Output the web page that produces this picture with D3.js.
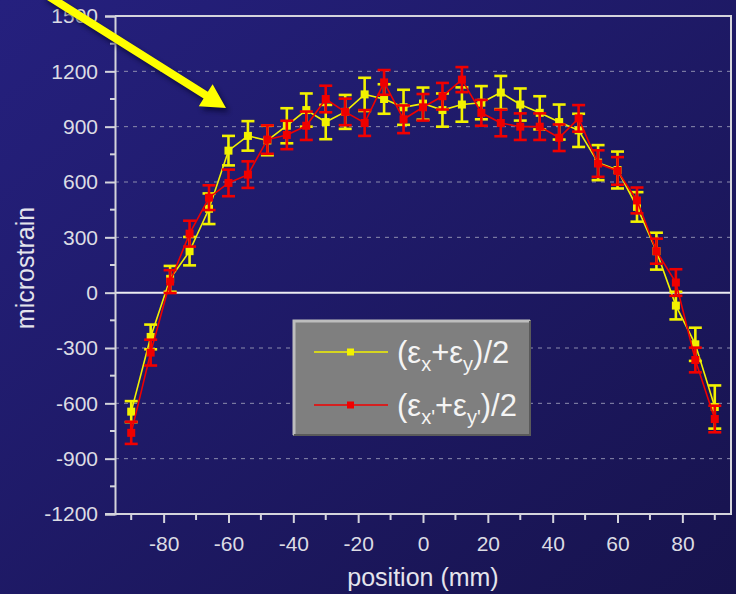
<!DOCTYPE html>
<html>
<head>
<meta charset="utf-8">
<script src="https://cdn.jsdelivr.net/npm/d3@7"></script>
<style>
  html, body { margin: 0; padding: 0; background: #1c1864; }
  svg { display: block; }
  text { font-family: "Liberation Sans", Arial, sans-serif; }
</style>
</head>
<body>
<svg id="chart" width="736" height="594"></svg>
<script>
// Measurement positions along the specimen (mm)
const positions = [-90,-84,-78,-72,-66,-60,-54,-48,-42,-36,-30,-24,-18,-12,-6,0,6,12,18,24,30,36,42,48,54,60,66,72,78,84,90];

// (εx+εy)/2 : mean strain and error half-width (microstrain)
const seriesA = [-645,-240,75,225,455,770,850,825,905,990,925,980,1075,1050,1005,1025,990,1020,1030,1085,1020,975,925,880,705,665,465,225,-70,-280,-620];
const errorsA = [57,67,70,77,83,80,80,80,95,90,93,92,90,80,95,87,90,93,90,90,87,90,95,90,95,100,80,100,75,90,117];

// (εx'+εy')/2 : mean strain and error half-width (microstrain)
const seriesB = [-760,-325,60,320,515,595,640,830,855,905,1050,980,920,1140,940,1005,1065,1155,975,920,900,900,840,945,700,660,500,225,55,-365,-685];
const errorsB = [60,70,62,70,67,72,72,77,77,77,72,72,70,67,75,72,72,68,70,72,72,72,72,72,72,75,70,68,72,67,72];

const yTicks = [-1200,-900,-600,-300,0,300,600,900,1200,1500];
const xTicks = [-80,-60,-40,-20,0,20,40,60,80];

const svg = d3.select("#chart");
const W = 736, H = 594;
const plot = { left: 115, right: 731, top: 16, bottom: 514 };
const fmt = d => String(d); // plain hyphen-minus for negatives

// Background gradient
const defs = svg.append("defs");
const bg = defs.append("linearGradient").attr("id", "bg")
  .attr("x1", "0").attr("y1", "0").attr("x2", "1").attr("y2", "1");
bg.append("stop").attr("offset", "0%").attr("stop-color", "#25207e");
bg.append("stop").attr("offset", "100%").attr("stop-color", "#17134d");
svg.append("rect").attr("width", W).attr("height", H).attr("fill", "url(#bg)");

const shadow = defs.append("filter").attr("id", "shadow")
  .attr("x", "-20%").attr("y", "-20%").attr("width", "150%").attr("height", "150%");
shadow.append("feGaussianBlur").attr("stdDeviation", 2.5);

const x = d3.scaleLinear().domain([-95, 95]).range([plot.left, plot.right]);
const y = d3.scaleLinear().domain([-1200, 1500]).range([plot.bottom, plot.top]);

const axisColor = "#d4d4dc";

// Dashed grid lines
svg.append("g").selectAll("line")
  .data(yTicks.filter(v => v !== 0 && v !== 1500 && v !== -1200))
  .join("line")
  .attr("x1", plot.left).attr("x2", plot.right)
  .attr("y1", d => y(d)).attr("y2", d => y(d))
  .attr("stroke", "#8c8cae").attr("stroke-width", 1)
  .attr("stroke-dasharray", "4,5");

// Zero line
svg.append("line")
  .attr("x1", plot.left).attr("x2", plot.right)
  .attr("y1", y(0)).attr("y2", y(0))
  .attr("stroke", "#ececf2").attr("stroke-width", 2);

// Frame: top and right edges
svg.append("path")
  .attr("d", `M${plot.left},${plot.top}H${plot.right}V${plot.bottom}`)
  .attr("fill", "none").attr("stroke", axisColor).attr("stroke-width", 2);

// Y axis
const yAxis = d3.axisLeft(y)
  .tickValues(yTicks).tickSize(10).tickPadding(7)
  .tickFormat(fmt);
const gy = svg.append("g").attr("transform", `translate(${plot.left},0)`).call(yAxis);
gy.select(".domain").attr("stroke", axisColor).attr("stroke-width", 2);
gy.selectAll(".tick line").attr("stroke", axisColor).attr("stroke-width", 2);
gy.selectAll(".tick text").attr("fill", "#dcdce4").attr("font-size", 21)
  .attr("font-family", "Liberation Sans, Arial, sans-serif");
// minor y ticks
svg.append("g").selectAll("line")
  .data(d3.range(-1050, 1500, 300))
  .join("line")
  .attr("x1", plot.left - 5).attr("x2", plot.left)
  .attr("y1", d => y(d)).attr("y2", d => y(d))
  .attr("stroke", axisColor).attr("stroke-width", 2);

// X axis
const xAxis = d3.axisBottom(x)
  .tickValues(xTicks).tickSize(9).tickPadding(13)
  .tickFormat(fmt);
const gx = svg.append("g").attr("transform", `translate(0,${plot.bottom})`).call(xAxis);
gx.select(".domain").remove();
gx.selectAll(".tick line").attr("stroke", axisColor).attr("stroke-width", 2);
gx.selectAll(".tick text").attr("fill", "#dcdce4").attr("font-size", 21)
  .attr("font-family", "Liberation Sans, Arial, sans-serif");
svg.append("line")
  .attr("x1", plot.left - 10).attr("x2", plot.right + 1)
  .attr("y1", plot.bottom).attr("y2", plot.bottom)
  .attr("stroke", axisColor).attr("stroke-width", 2);
// minor x ticks
svg.append("g").selectAll("line")
  .data(d3.range(-90, 91, 20))
  .join("line")
  .attr("x1", d => x(d)).attr("x2", d => x(d))
  .attr("y1", plot.bottom).attr("y2", plot.bottom + 6)
  .attr("stroke", axisColor).attr("stroke-width", 2);

// Axis titles
svg.append("text")
  .attr("x", x(0)).attr("y", 586)
  .attr("text-anchor", "middle").attr("fill", "#e4e4ec")
  .attr("font-size", 25).text("position (mm)");
svg.append("text")
  .attr("transform", `translate(34,268) rotate(-90)`)
  .attr("text-anchor", "middle").attr("fill", "#e4e4ec")
  .attr("font-size", 25).text("microstrain");

// Data series
function drawSeries(vals, errs, color) {
  const g = svg.append("g");
  const pts = positions.map((p, i) => ({ p, v: vals[i], e: errs[i] }));
  g.append("path")
    .datum(pts)
    .attr("d", d3.line().x(d => x(d.p)).y(d => y(d.v)))
    .attr("fill", "none").attr("stroke", color).attr("stroke-width", 1.6);
  const cap = 6.5;
  const eb = g.selectAll("g.eb").data(pts).join("g");
  eb.append("line")
    .attr("x1", d => x(d.p)).attr("x2", d => x(d.p))
    .attr("y1", d => y(d.v + d.e)).attr("y2", d => y(d.v - d.e))
    .attr("stroke", color).attr("stroke-width", 2.6);
  eb.append("line")
    .attr("x1", d => x(d.p) - cap).attr("x2", d => x(d.p) + cap)
    .attr("y1", d => y(d.v + d.e)).attr("y2", d => y(d.v + d.e))
    .attr("stroke", color).attr("stroke-width", 2.6);
  eb.append("line")
    .attr("x1", d => x(d.p) - cap).attr("x2", d => x(d.p) + cap)
    .attr("y1", d => y(d.v - d.e)).attr("y2", d => y(d.v - d.e))
    .attr("stroke", color).attr("stroke-width", 2.6);
  eb.append("rect")
    .attr("x", d => x(d.p) - 4).attr("y", d => y(d.v) - 4)
    .attr("width", 8).attr("height", 8).attr("fill", color);
}
drawSeries(seriesA, errorsA, "#f2f200");
drawSeries(seriesB, errorsB, "#f00000");

// Legend
const lg = svg.append("g");
const L = { x: 293, y: 320, w: 238, h: 116 };
lg.append("rect").attr("x", L.x).attr("y", L.y).attr("width", L.w).attr("height", L.h)
  .attr("fill", "#7f7f7f");
lg.append("path")
  .attr("d", `M${L.x + 1},${L.y + L.h - 1}V${L.y + 1}H${L.x + L.w - 1}`)
  .attr("fill", "none").attr("stroke", "#bdbdbd").attr("stroke-width", 3);
lg.append("path")
  .attr("d", `M${L.x + L.w - 1},${L.y + 1}V${L.y + L.h - 1}H${L.x + 1}`)
  .attr("fill", "none").attr("stroke", "#5a5a5a").attr("stroke-width", 2);

const legendItems = [
  { color: "#f2f200", ly: 352, sx: "x", sy: "y" },
  { color: "#f00000", ly: 405, sx: "x'", sy: "y'" }
];
legendItems.forEach(it => {
  lg.append("line").attr("x1", 314).attr("x2", 388)
    .attr("y1", it.ly).attr("y2", it.ly)
    .attr("stroke", it.color).attr("stroke-width", 1.6);
  lg.append("rect").attr("x", 347).attr("y", it.ly - 3.5)
    .attr("width", 7).attr("height", 7).attr("fill", it.color);
  const t = lg.append("text").attr("x", 397).attr("y", it.ly + 11)
    .attr("fill", "#f4f4f4").attr("font-size", 31);
  t.append("tspan").text("(ε");
  t.append("tspan").attr("font-size", 20).attr("dy", 8).text(it.sx);
  t.append("tspan").attr("dy", -8).text("+ε");
  t.append("tspan").attr("font-size", 20).attr("dy", 8).text(it.sy);
  t.append("tspan").attr("dy", -8).text(")/2");
});

// Pointer arrow
function arrowPath(x0, y0, x1, y1, headLen, headHalf, shaftHalf) {
  const a = Math.atan2(y1 - y0, x1 - x0);
  const c = Math.cos(a), s = Math.sin(a);
  const bx = x1 - headLen * c, by = y1 - headLen * s;
  const px = -s, py = c;
  return [
    [x0 + px * shaftHalf, y0 + py * shaftHalf],
    [bx + px * shaftHalf, by + py * shaftHalf],
    [bx + px * headHalf, by + py * headHalf],
    [x1, y1],
    [bx - px * headHalf, by - py * headHalf],
    [bx - px * shaftHalf, by - py * shaftHalf],
    [x0 - px * shaftHalf, y0 - py * shaftHalf]
  ];
}
const arrowPts = arrowPath(45, -6, 226, 108, 24, 13, 4);
svg.append("polygon")
  .attr("points", arrowPts.map(p => [p[0] + 3, p[1] + 4].join(",")).join(" "))
  .attr("fill", "#000020").attr("opacity", 0.6).attr("filter", "url(#shadow)");
svg.append("polygon")
  .attr("points", arrowPts.map(p => p.join(",")).join(" "))
  .attr("fill", "#ffff00");
</script>
</body>
</html>
